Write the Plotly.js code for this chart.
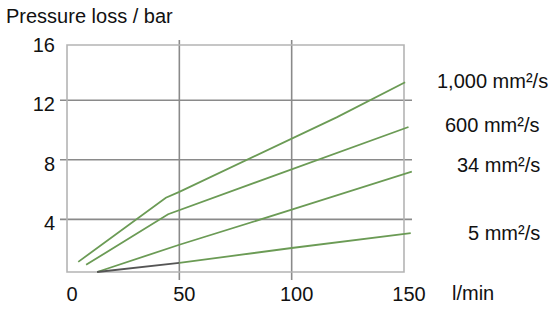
<!DOCTYPE html>
<html>
<head>
<meta charset="utf-8">
<script src="https://cdn.plot.ly/plotly-3.0.1.min.js"></script>
<style>html,body{margin:0;padding:0;background:#fff;}#chart{width:552px;height:309px;}</style>
</head>
<body>
<div id="chart"></div>
<script>
// Flow rate (l/min) and pressure loss (bar) per viscosity curve
const flow1000 = [5, 44, 50, 100, 120, 150.5];
const loss1000 = [1.15, 5.45, 5.85, 9.45, 10.85, 13.2];
const flow600 = [8.5, 45, 152];
const loss600 = [0.95, 4.35, 10.2];
const flow34 = [13.4, 50, 100, 153.5];
const loss34 = [0.47, 2.3, 4.65, 7.2];
const flow5 = [13.4, 50, 100, 153];
const loss5 = [0.47, 1.08, 2.08, 3.08];
const seriesNames = ['1,000 mm²/s', '600 mm²/s', '34 mm²/s', '5 mm²/s'];
const xTickVals = [0, 50, 100, 150];
const xTickText = ['0', '50', '100', '150'];
const yTickVals = [4, 8, 12, 16];
const yTickText = ['4', '8', '12', '16'];
const xGrid = [50, 100];
const yGrid = [4, 8, 12];
const boxX = [0, 150];
const boxY = [0.47, 15.7];

const green = '#6b9b55';
const font = 'Liberation Sans, Arial, sans-serif';

const traces = [
  {x: flow1000, y: loss1000, name: seriesNames[0], mode: 'lines', line: {color: green, width: 1.8}},
  {x: flow600, y: loss600, name: seriesNames[1], mode: 'lines', line: {color: green, width: 1.8}},
  {x: flow34, y: loss34, name: seriesNames[2], mode: 'lines', line: {color: green, width: 1.8}},
  {x: flow5.slice(0, 2), y: loss5.slice(0, 2), name: seriesNames[3], mode: 'lines', line: {color: '#555555', width: 1.8}},
  {x: flow5.slice(1), y: loss5.slice(1), name: seriesNames[3], mode: 'lines', line: {color: green, width: 1.8}}
];

const shapes = [];
yGrid.forEach(v => shapes.push({type: 'line', xref: 'paper', yref: 'y', x0: 0, x1: 1, y0: v, y1: v, line: {color: '#8a8a8a', width: 1.6}, layer: 'below'}));
xGrid.forEach(v => shapes.push({type: 'line', xref: 'x', yref: 'paper', x0: v, x1: v, y0: 0, y1: 1, line: {color: '#8a8a8a', width: 1.6}, layer: 'below'}));
shapes.push({type: 'rect', xref: 'x', yref: 'y', x0: boxX[0], x1: boxX[1], y0: boxY[0], y1: boxY[1], line: {color: '#b4b4b4', width: 1.6}, layer: 'below'});

const labelPos = [[1.0653, 0.8304], [1.0881, 0.6458], [1.1222, 0.4792], [1.1534, 0.1979]];
const annotations = seriesNames.map((t, i) => ({
  text: t, xref: 'paper', yref: 'paper', x: labelPos[i][0], y: labelPos[i][1],
  xanchor: 'left', yanchor: 'middle', showarrow: false, font: {family: font, size: 20, color: '#111'}
}));
annotations.push({text: 'l/min', xref: 'paper', yref: 'paper', x: 1.108, y: -0.054, xanchor: 'left', yanchor: 'middle', showarrow: false, font: {family: font, size: 20, color: '#111'}});
annotations.push({text: 'Pressure loss / bar', xref: 'paper', yref: 'paper', x: -0.16, y: 1.1, xanchor: 'left', yanchor: 'middle', showarrow: false, font: {family: font, size: 20, color: '#111'}});

const layout = {
  width: 552, height: 309,
  margin: {l: 60, r: 140, t: 40, b: 29, pad: 0},
  paper_bgcolor: '#fff', plot_bgcolor: '#fff',
  showlegend: false,
  font: {family: font, size: 20, color: '#111'},
  xaxis: {range: [-3.12, 153.56], tickvals: xTickVals, ticktext: xTickText, showgrid: false, zeroline: false, showline: false, ticks: '', ticklabelshift: 5, ticklabelstandoff: 0, tickfont: {family: font, size: 20, color: '#111'}},
  yaxis: {range: [-0.067, 16.04], tickvals: yTickVals, ticktext: yTickText, showgrid: false, zeroline: false, showline: false, ticks: '', ticklabelshift: 4, ticklabelstandoff: 4, tickfont: {family: font, size: 20, color: '#111'}},
  shapes: shapes,
  annotations: annotations
};

Plotly.newPlot('chart', traces, layout, {staticPlot: true, displayModeBar: false});
</script>
</body>
</html>
